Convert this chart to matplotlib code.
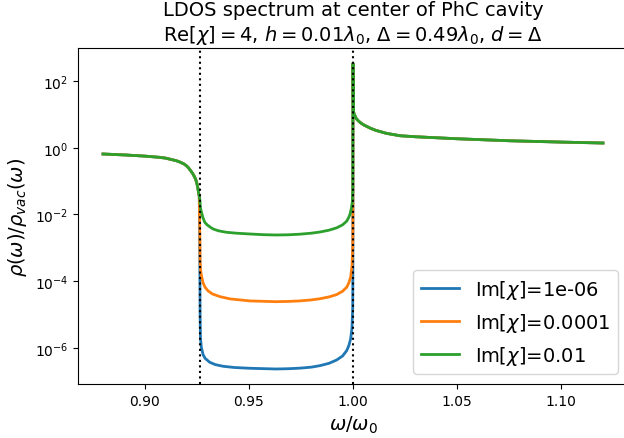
import numpy as np
import matplotlib
matplotlib.use("Agg")
import matplotlib.pyplot as plt

# ---- data (omega/omega0, log10 of rho/rho_vac) ----
left_w = [0.880, 0.891, 0.900, 0.907, 0.910, 0.9152, 0.917, 0.919, 0.9200, 0.9210,
          0.9220, 0.9232, 0.9240, 0.9245, 0.9250, 0.9255, 0.9259, 0.9262]
left_l = [-0.187, -0.217, -0.250, -0.286, -0.310, -0.388, -0.430, -0.490, -0.538, -0.600,
          -0.680, -0.787, -0.880, -0.950, -1.050, -1.200, -1.350, -1.450]

right_w = [1.0000, 1.0002, 1.0005, 1.0015, 1.0025, 1.0034, 1.0050, 1.0082, 1.0110,
           1.0162, 1.0190, 1.0226, 1.030, 1.040, 1.050, 1.075, 1.100, 1.120]
right_l = [2.53, 1.10, 1.02, 0.88, 0.81, 0.76, 0.69, 0.59, 0.52,
           0.43, 0.40, 0.36, 0.33, 0.30, 0.27, 0.21, 0.17, 0.142]

gap_w_green = [0.92644, 0.92680, 0.92726, 0.92800, 0.92885, 0.93000, 0.93150, 0.93284,
               0.93550, 0.93928, 0.94400, 0.9505, 0.9570, 0.963, 0.9690, 0.97452,
               0.9800, 0.98413, 0.9885, 0.99216, 0.9950, 0.99697, 0.99800, 0.99856,
               0.99920, 0.99966, 0.99990]
gap_l_green = [-1.535, -1.800, -1.934, -2.100, -2.234, -2.310, -2.380, -2.434,
               -2.490, -2.533, -2.560, -2.584, -2.605, -2.614, -2.608, -2.590,
               -2.560, -2.525, -2.470, -2.400, -2.310, -2.200, -2.080, -1.990,
               -1.820, -1.635, -1.300]

gap_w_orange = [0.92645, 0.92660, 0.92690, 0.92726, 0.92803, 0.92900, 0.93043, 0.93250,
                0.93606, 0.9410, 0.9505, 0.963, 0.9690, 0.97452, 0.9800, 0.98413,
                0.9885, 0.99216, 0.9950, 0.99697, 0.99800, 0.99889, 0.99950, 0.99986,
                0.99995]
gap_l_orange = [-2.50, -3.40, -3.70, -3.834, -4.050, -4.180, -4.290, -4.380,
                -4.460, -4.530, -4.590, -4.613, -4.605, -4.590, -4.560, -4.525,
                -4.470, -4.400, -4.300, -4.180, -4.050, -3.870, -3.550, -3.000,
                -2.500]

gap_w_blue = [0.92645, 0.92660, 0.92678, 0.92720, 0.92803, 0.92900, 0.93125, 0.93400,
              0.93764, 0.9430, 0.9505, 0.963, 0.9690, 0.97452, 0.9800, 0.98413,
              0.9885, 0.99216, 0.9950, 0.99697, 0.99800, 0.99889, 0.99950, 0.99986,
              0.99995]
gap_l_blue = [-3.00, -5.00, -5.70, -5.98, -6.20, -6.31, -6.43, -6.50,
              -6.549, -6.585, -6.609, -6.630, -6.622, -6.605, -6.575, -6.530,
              -6.46, -6.36, -6.24, -6.08, -5.93, -5.72, -5.40, -4.80,
              -3.50]

im_chi = [1e-06, 0.0001, 0.01]
colors = ['#1f77b4', '#ff7f0e', '#2ca02c']
band_edges = [0.9264, 1.0]

series = [(gap_w_blue, gap_l_blue), (gap_w_orange, gap_l_orange), (gap_w_green, gap_l_green)]

fig = plt.figure(figsize=(6.24, 4.39), dpi=100)
ax = fig.add_axes([78/624, 54/439, 550/624, 336/439])

for (gw, gl), im, c in zip(series, im_chi, colors):
    w = np.array(left_w + gw + right_w)
    l = np.array(left_l + gl + right_l)
    ax.semilogy(w, 10.0**l, color=c, lw=2, label=r'Im$[\chi]$={}'.format(im))

for e in band_edges:
    ax.axvline(e, color='k', ls=':', lw=1.5)

ax.set_xlim(0.868, 1.132)
ax.set_ylim(10**-7.08, 10**2.99)
ax.set_yticks([1e-6, 1e-4, 1e-2, 1e0, 1e2])
ax.yaxis.set_minor_locator(matplotlib.ticker.NullLocator())
ax.set_xticks([0.90, 0.95, 1.00, 1.05, 1.10])

ax.set_xlabel(r'$\omega/\omega_0$', fontsize=14)
ax.set_ylabel(r'$\rho(\omega)/\rho_{vac}(\omega)$', fontsize=14)
ax.set_title('LDOS spectrum at center of PhC cavity\n'
             r'Re$[\chi]=4$, $h=0.01\lambda_0$, $\Delta=0.49\lambda_0$, $d=\Delta$',
             fontsize=14)
ax.legend(loc='lower right', fontsize=14)

fig.savefig('out.png', dpi=100)
